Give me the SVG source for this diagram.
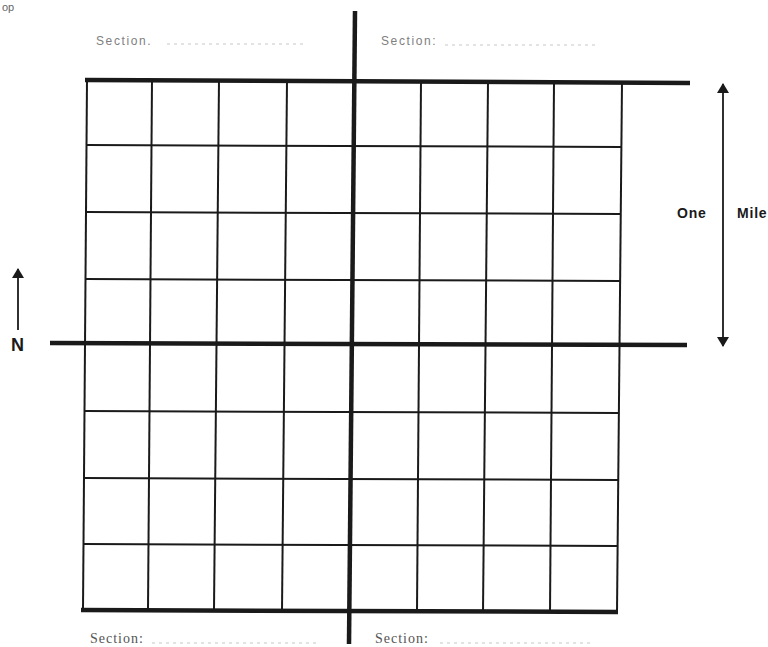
<svg xmlns="http://www.w3.org/2000/svg" width="768" height="647" viewBox="0 0 768 647">
<style>
.thin{stroke:#1a1a1a;stroke-width:2;fill:none}
.heavy{stroke:#1a1a1a;stroke-width:4.5;fill:none}
.arrow{stroke:#1a1a1a;stroke-width:1.8;fill:none}
.sec{font-family:"Liberation Sans",Arial,sans-serif;font-size:12px;fill:#808080;letter-spacing:1.6px}
.secb{font-family:"Liberation Serif","Times New Roman",serif;font-size:14px;fill:#555;letter-spacing:1px}
.dots{stroke:#c8c8c8;stroke-width:1.2;stroke-dasharray:3 4;fill:none}
.lbl{font-family:"Liberation Sans",Arial,sans-serif;font-weight:bold;fill:#1a1a1a}
</style>
<defs>
<marker id="ah" viewBox="0 0 10 12" refX="9" refY="6" markerWidth="10" markerHeight="12" markerUnits="userSpaceOnUse" orient="auto-start-reverse">
<path d="M0,0 L10,6 L0,12 Z" fill="#1a1a1a"/>
</marker>
</defs>
<rect width="768" height="647" fill="#ffffff"/>
<g id="labels">
<text x="2" y="11" font-family="Liberation Sans,Arial,sans-serif" font-size="11" fill="#666">op</text>
<text class="sec" x="96" y="45">Section.</text>
<line class="dots" x1="167" y1="44" x2="305" y2="44"/>
<text class="sec" x="381" y="45">Section:</text>
<line class="dots" x1="445" y1="45" x2="595" y2="45"/>
<text class="secb" x="90" y="643">Section:</text>
<line class="dots" x1="152" y1="643" x2="320" y2="643"/>
<text class="secb" x="375" y="643">Section:</text>
<line class="dots" x1="440" y1="643" x2="590" y2="643"/>
</g>
<g id="grid">
<line class="thin" x1="87" y1="80" x2="83" y2="610"/>
<line class="thin" x1="152" y1="80" x2="148" y2="610"/>
<line class="thin" x1="219" y1="80" x2="214" y2="610"/>
<line class="thin" x1="287" y1="81" x2="282" y2="611"/>
<line class="thin" x1="421" y1="81" x2="417" y2="611"/>
<line class="thin" x1="488" y1="82" x2="483" y2="612"/>
<line class="thin" x1="554" y1="82" x2="550" y2="612"/>
<line class="thin" x1="622" y1="82" x2="617" y2="612"/>
<line class="thin" x1="86" y1="145" x2="621" y2="147"/>
<line class="thin" x1="86" y1="212" x2="621" y2="214"/>
<line class="thin" x1="85" y1="279" x2="620" y2="281"/>
<line class="thin" x1="84" y1="411" x2="619" y2="413"/>
<line class="thin" x1="84" y1="478" x2="618" y2="480"/>
<line class="thin" x1="83" y1="544" x2="618" y2="546"/>
</g>
<g id="axes">
<line class="heavy" x1="85" y1="80" x2="690" y2="83"/>
<line class="heavy" x1="50" y1="343" x2="687" y2="345"/>
<line class="heavy" x1="81" y1="610" x2="618" y2="612"/>
<line class="heavy" x1="355" y1="11" x2="349" y2="644"/>
</g>
<g id="connectors">
<line class="arrow" x1="18" y1="330" x2="18" y2="269" marker-end="url(#ah)"/>
<line class="arrow" x1="723" y1="84" x2="723" y2="346" marker-start="url(#ah)" marker-end="url(#ah)"/>
</g>
<g id="north">
<text class="lbl" x="11" y="351" font-size="18">N</text>
</g>
<g id="scale">
<text class="lbl" x="677" y="218" font-size="14" letter-spacing="0.8">One</text>
<text class="lbl" x="737" y="218" font-size="14" letter-spacing="0.8">Mile</text>
</g>
</svg>
